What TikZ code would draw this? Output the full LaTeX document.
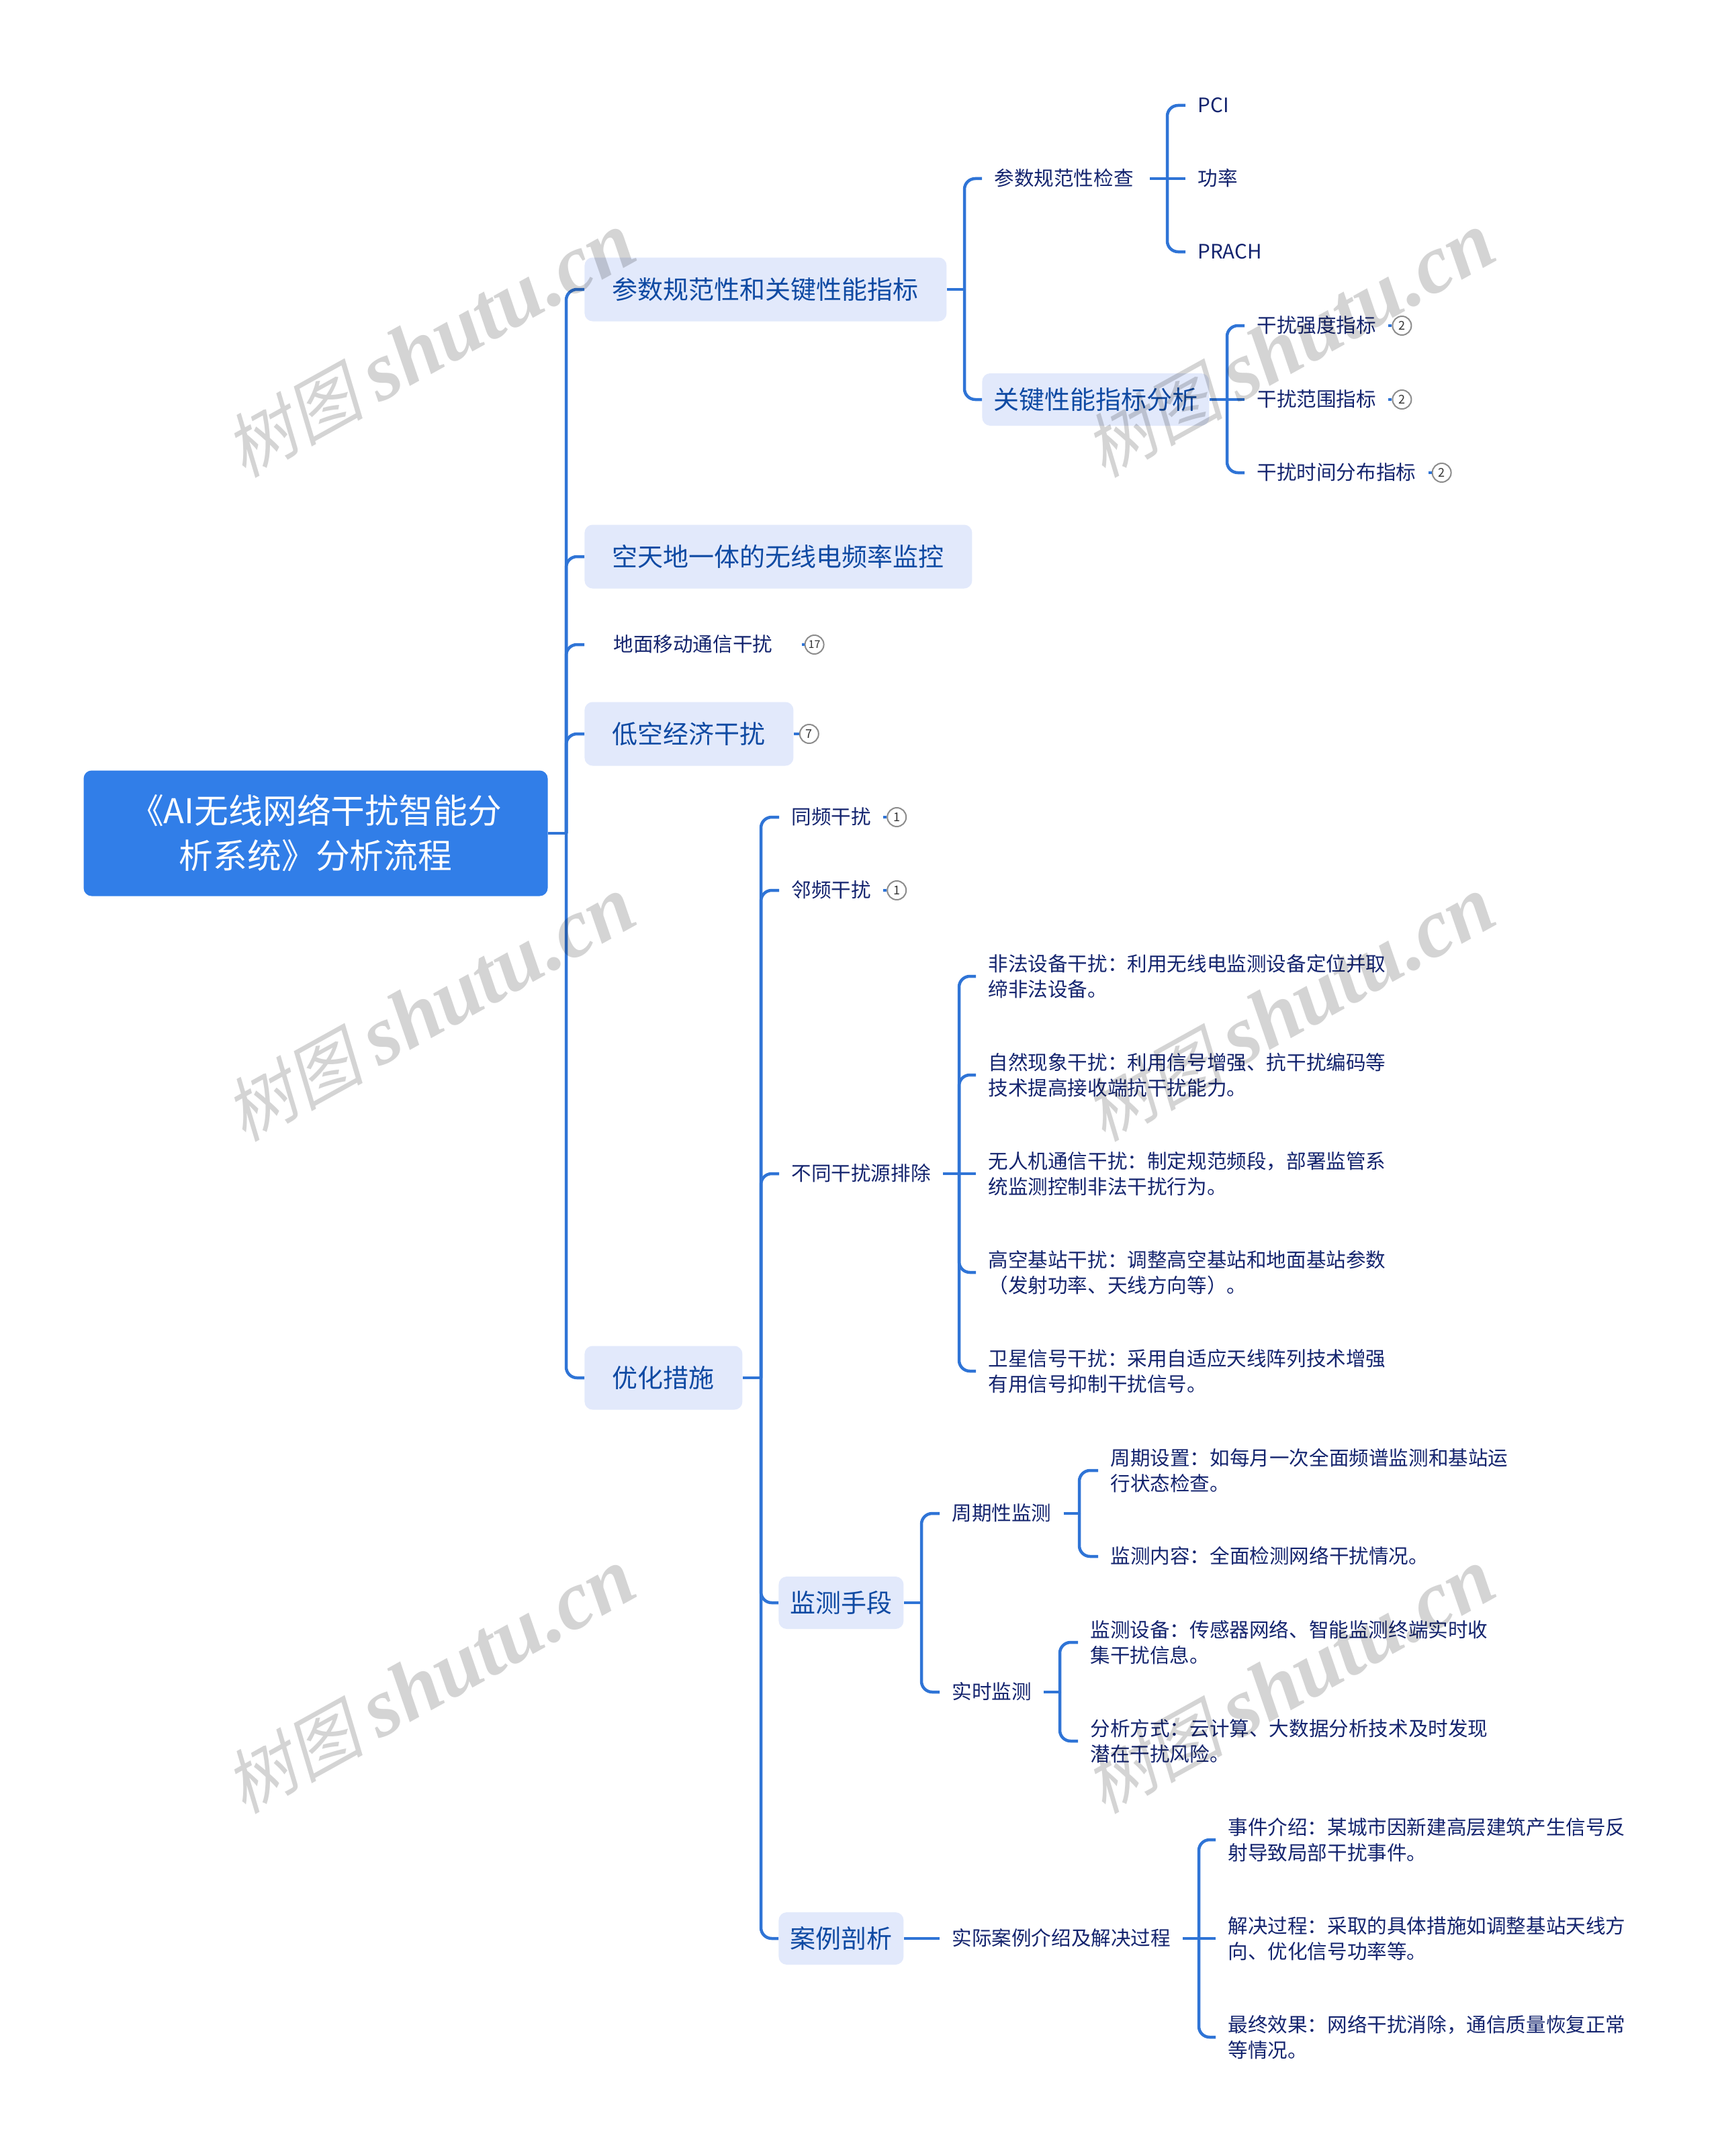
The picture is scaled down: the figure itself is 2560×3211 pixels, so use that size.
\documentclass[tikz,border=0pt]{standalone}
\usepackage{fontspec}
\setmainfont{Noto Sans CJK SC}
\newfontfamily\wmcjk[FakeSlant=0.22]{Noto Sans CJK SC}
\newfontfamily\wmlatin{Liberation Serif}
\usetikzlibrary{positioning}
\definecolor{linkblue}{HTML}{2F74D6}
\definecolor{rootblue}{HTML}{317EE8}
\definecolor{boxblue}{HTML}{E2E9FB}
\definecolor{midtext}{HTML}{0F4AA3}
\definecolor{leaftext}{HTML}{14246E}
\tikzset{
  link/.style={linkblue,line width=2.25pt},
  rootnode/.style={fill=rootblue,text=white,rounded corners=6pt,align=center,minimum width=345.5pt,minimum height=93.5pt,inner sep=0pt,font=\fontsize{25.4}{33.5}\selectfont},
  topbox/.style={anchor=west,fill=boxblue,text=midtext,rounded corners=6pt,minimum height=47.5pt,inner xsep=20.75pt,inner ysep=0pt,text height=16.3pt,text depth=2.3pt,font=\fontsize{19}{23}\selectfont},
  subbox/.style={topbox,minimum height=39pt,inner xsep=8.5pt},
  topplain/.style={anchor=west,text=leaftext,inner xsep=21.5pt,inner ysep=0pt,text height=12.7pt,text depth=1.8pt,font=\fontsize{14.8}{19}\selectfont},
  leaf/.style={anchor=west,text=leaftext,inner xsep=9pt,inner ysep=0pt,text height=12.7pt,text depth=1.8pt,font=\fontsize{14.8}{19}\selectfont},
  para/.style={anchor=west,text=leaftext,inner xsep=9pt,inner ysep=0pt,align=left,font=\fontsize{14.8}{19}\selectfont},
  badge/.style={circle,draw=gray!90,fill=white,line width=1pt,minimum size=14pt,inner sep=0pt,text=black!80,font=\fontsize{9}{10}\selectfont},
  wmark/.style={black,opacity=.17,rotate=29}
}
\newcommand{\fork}[3]{
  \coordinate (#1t) at (#2,0 |- #1.east);
  \draw[link] (#1.east) -- (#1t);
  \foreach \kid in {#3} \draw[link,rounded corners=8pt] (#1t) |- (\kid.west);
}
\begin{document}
\begin{tikzpicture}[x=.5pt,y=-.5pt]
\useasboundingbox (0,0) rectangle (2560,3211);

\node[rootnode] (root) at (470,1241) {《AI无线网络干扰智能分\\析系统》分析流程};

\node[topbox] (p1) at (870,431) {参数规范性和关键性能指标};
\node[topbox] (p2) at (870,829) {空天地一体的无线电频率监控};
\node[topplain] (p3) at (870,960) {地面移动通信干扰};
\node[topbox] (p4) at (870,1093) {低空经济干扰};
\node[topbox] (p5) at (870,2052) {优化措施};

\node[badge,right=2pt of p3,font=\fontsize{8}{9}\selectfont] (p3n) {17};
\node[badge,right=4pt of p4] (p4n) {7};

\node[leaf,text width=106.6pt] (p1a) at (1462,266) {参数规范性检查};
\node[subbox] (p1b) at (1462,595) {关键性能指标分析};

\node[leaf] (p1a1) at (1765,157) {PCI};
\node[leaf] (p1a2) at (1765,266) {功率};
\node[leaf] (p1a3) at (1765,375) {PRACH};

\node[leaf] (p1b1) at (1853,485) {干扰强度指标};
\node[leaf] (p1b2) at (1853,595) {干扰范围指标};
\node[leaf] (p1b3) at (1853,704) {干扰时间分布指标};
\node[badge,right=2.5pt of p1b1] (p1b1n) {2};
\node[badge,right=2.5pt of p1b2] (p1b2n) {2};
\node[badge,right=2.5pt of p1b3] (p1b3n) {2};

\node[leaf] (q1) at (1160,1217) {同频干扰};
\node[leaf] (q2) at (1160,1326) {邻频干扰};
\node[leaf] (q3) at (1160,1748) {不同干扰源排除};
\node[subbox] (q4) at (1159,2387) {监测手段};
\node[subbox] (q5) at (1159,2887) {案例剖析};
\node[badge,right=2.5pt of q1] (q1n) {1};
\node[badge,right=2.5pt of q2] (q2n) {1};

\node[para] (q3a) at (1453,1454) {非法设备干扰：利用无线电监测设备定位并取\\缔非法设备。};
\node[para] (q3b) at (1453,1601) {自然现象干扰：利用信号增强、抗干扰编码等\\技术提高接收端抗干扰能力。};
\node[para] (q3c) at (1453,1748) {无人机通信干扰：制定规范频段，部署监管系\\统监测控制非法干扰行为。};
\node[para] (q3d) at (1453,1895) {高空基站干扰：调整高空基站和地面基站参数\\（发射功率、天线方向等）。};
\node[para] (q3e) at (1453,2042) {卫星信号干扰：采用自适应天线阵列技术增强\\有用信号抑制干扰信号。};

\node[leaf] (q4a) at (1399,2254) {周期性监测};
\node[leaf] (q4b) at (1399,2520) {实时监测};
\node[para] (q4a1) at (1635,2190) {周期设置：如每月一次全面频谱监测和基站运\\行状态检查。};
\node[leaf] (q4a2) at (1635,2318) {监测内容：全面检测网络干扰情况。};
\node[para] (q4b1) at (1605,2446) {监测设备：传感器网络、智能监测终端实时收\\集干扰信息。};
\node[para] (q4b2) at (1605,2593) {分析方式：云计算、大数据分析技术及时发现\\潜在干扰风险。};

\node[leaf] (q5a) at (1399,2887) {实际案例介绍及解决过程};
\node[para] (q5a1) at (1810,2740) {事件介绍：某城市因新建高层建筑产生信号反\\射导致局部干扰事件。};
\node[para] (q5a2) at (1810,2887) {解决过程：采取的具体措施如调整基站天线方\\向、优化信号功率等。};
\node[para] (q5a3) at (1810,3034) {最终效果：网络干扰消除，通信质量恢复正常\\等情况。};

\fork{root}{843}{p1,p2,p3,p4,p5}
\fork{p1}{1436}{p1a,p1b}
\fork{p1a}{1738}{p1a1,p1a3}
\fork{p1b}{1827}{p1b1,p1b3}
\fork{p5}{1133}{q1,q2,q3,q4,q5}
\fork{q3}{1428}{q3a,q3b,q3d,q3e}
\fork{q4}{1372}{q4a,q4b}
\fork{q4a}{1607}{q4a1,q4a2}
\fork{q4b}{1578}{q4b1,q4b2}
\fork{q5a}{1785}{q5a1,q5a3}

\draw[link] (p1a.east) -- (p1a2.west);
\draw[link] (p1b.east) -- (p1b2.west);
\draw[link] (q3.east) -- (q3c.west);
\draw[link] (q5.east) -- (q5a.west);
\draw[link] (q5a.east) -- (q5a2.west);

\foreach \a in {p3,p4,p1b1,p1b2,p1b3,q1,q2}
  \draw[link] (\a.east) -- (\a n.west);

\foreach \i/\x/\y in {1/640/514,2/1920/514,3/640/1503,4/1920/1503,5/640/2504,6/1920/2504}
  \node[wmark] (w\i) at (\x,\y) {\fontsize{52}{60}\wmcjk 树图 \fontsize{62}{60}\wmlatin\bfseries\itshape shutu.cn};
\end{tikzpicture}
\end{document}
